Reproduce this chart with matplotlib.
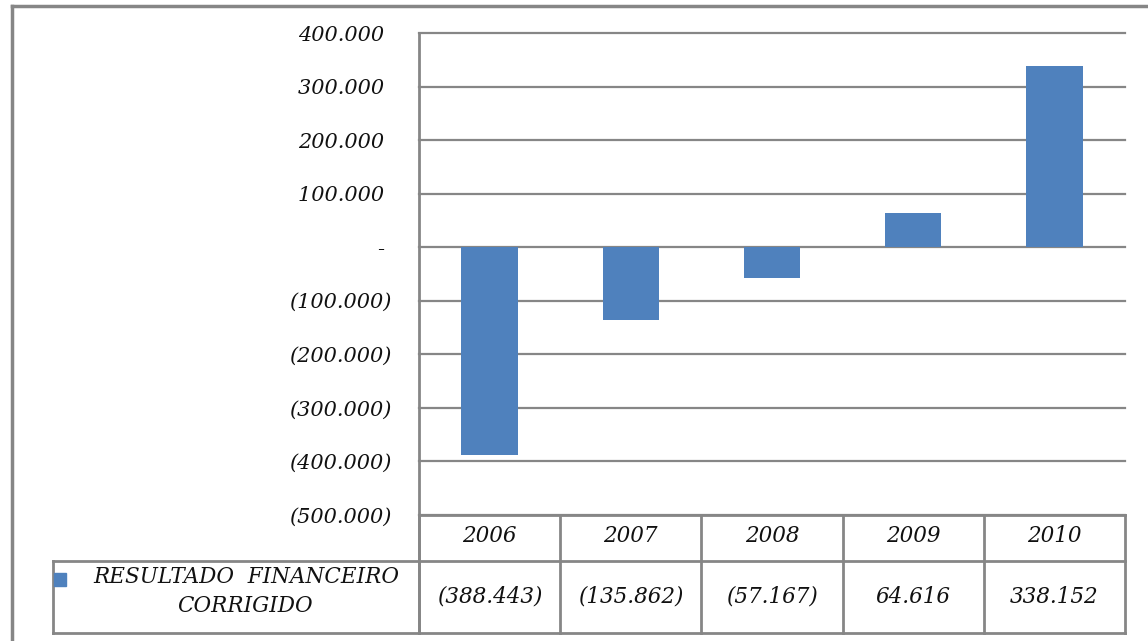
import matplotlib
matplotlib.use("Agg")
import matplotlib.pyplot as plt
from matplotlib.lines import Line2D
from matplotlib.patches import Rectangle

years = ["2006", "2007", "2008", "2009", "2010"]
valores = [-388443, -135862, -57167, 64616, 338152]
valores_txt = ["(388.443)", "(135.862)", "(57.167)", "64.616", "338.152"]
serie = ["RESULTADO  FINANCEIRO", "CORRIGIDO"]
yticks = [400000, 300000, 200000, 100000, 0, -100000, -200000, -300000, -400000, -500000]
ytick_labels = ["400.000 ", "300.000 ", "200.000 ", "100.000 ", "- ", "(100.000)",
                "(200.000)", "(300.000)", "(400.000)", "(500.000)"]

W, H = 1148, 641
BLUE = "#4F81BD"
GRAY = "#868686"
FONT = dict(family="DejaVu Serif", style="italic", fontsize=15, color="#111111")
TFONT = dict(FONT, fontsize=15.5)


def fx(px):
    return px / W


def fy(py):
    return 1 - py / H


fig = plt.figure(figsize=(W / 100, H / 100), dpi=100)

# plot area
x0, x1, y_top, y_bot = 419, 1125, 33, 515
ax = fig.add_axes([fx(x0), fy(y_bot), fx(x1 - x0), fy(y_top) - fy(y_bot)])
xs = list(range(len(years)))
ax.bar(xs, valores, width=0.40, color=BLUE, zorder=3)
ax.set_xlim(-0.5, len(years) - 0.5)
ax.set_ylim(-500000, 400000)
ax.set_yticks(yticks)
ax.set_yticklabels(ytick_labels, **FONT)
ax.tick_params(axis="y", length=0, pad=20)
ax.set_xticks([])
ax.yaxis.grid(True, color=GRAY, linewidth=1.6)
for gl in ax.get_ygridlines():
    gl.set_clip_on(False)
ax.set_axisbelow(True)
for s in ax.spines.values():
    s.set_visible(False)

# data table below plot
slot = (x1 - x0) / len(years)
tx0 = 53
c_left = (tx0 - x0) / slot - 0.5
tab = fig.add_axes([fx(tx0), fy(633), fx(x1 - tx0), fy(y_bot) - fy(633)])
tab.set_xlim(c_left, len(years) - 0.5)
tab.set_ylim(0, 2)
tab.axis("off")
hdr_frac = (561 - 515) / (633 - 515)
y_mid = 2 * (1 - hdr_frac)  # boundary between header and values row

lw = 2.0
tab.plot([-0.5, len(years) - 0.5], [2, 2], color=GRAY, lw=lw, clip_on=False)
tab.plot([c_left, len(years) - 0.5], [y_mid, y_mid], color=GRAY, lw=lw, clip_on=False)
tab.plot([c_left, len(years) - 0.5], [0, 0], color=GRAY, lw=lw, clip_on=False)
for i in range(len(years) + 1):
    tab.plot([i - 0.5, i - 0.5], [0, 2], color=GRAY, lw=lw, clip_on=False)
tab.plot([c_left, c_left], [0, y_mid], color=GRAY, lw=lw, clip_on=False)

for i, (yr, v) in enumerate(zip(years, valores_txt)):
    tab.text(i, (2 + y_mid) / 2 + 0.03, yr, ha="center", va="center", **TFONT)
    tab.text(i, y_mid / 2, v, ha="center", va="center", **TFONT)

# legend cell
fig.add_artist(Rectangle((fx(54), fy(586)), fx(12), fy(573) - fy(586),
                         transform=fig.transFigure, color=BLUE))
fig.text(fx(246), fy(577), serie[0], ha="center", va="center", **TFONT)
fig.text(fx(245), fy(606), serie[1], ha="center", va="center", **TFONT)

# left axis line through plot and table
fig.add_artist(Line2D([fx(x0), fx(x0)], [fy(y_top), fy(633)], color=GRAY, lw=lw))

# outer frame
fig.add_artist(Line2D([fx(12), 1], [fy(6), fy(6)], color=GRAY, lw=2.5))
fig.add_artist(Line2D([fx(12), fx(12)], [0, fy(6)], color=GRAY, lw=2.5))

fig.savefig("out.png", dpi=100)
